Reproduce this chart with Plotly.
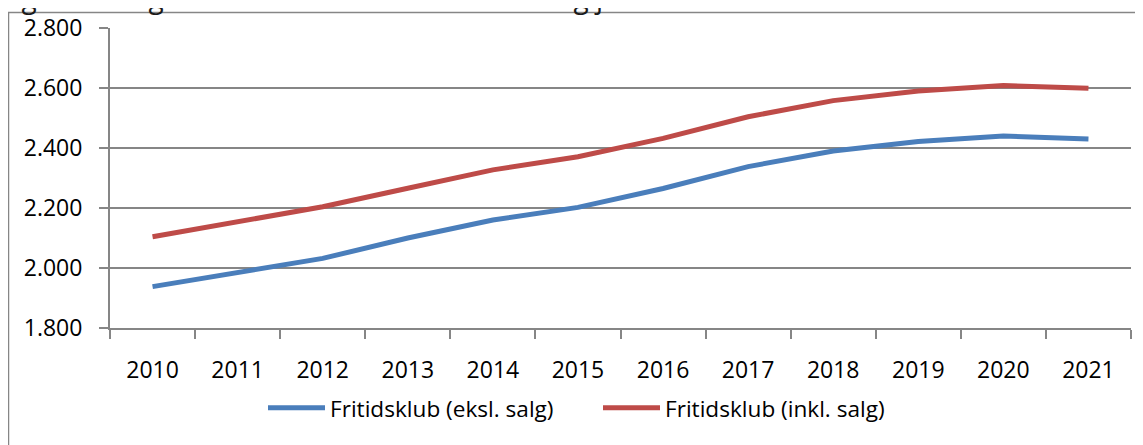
import plotly.graph_objects as go

years = ["2010", "2011", "2012", "2013", "2014", "2015", "2016", "2017", "2018", "2019", "2020", "2021"]
eksl_salg = [1938, 1986, 2032, 2100, 2160, 2202, 2265, 2338, 2390, 2422, 2440, 2430]
inkl_salg = [2104, 2154, 2204, 2266, 2327, 2371, 2432, 2504, 2558, 2590, 2608, 2599]
name_eksl = "Fritidsklub (eksl. salg)"
name_inkl = "Fritidsklub (inkl. salg)"
title_text = "Figur 7: Prognose over medlemstal Fritids- og juniorklub"

# the page body adds an 8px offset; the layout below is expressed in screen pixels
OFF = 8
W, H = 1143, 445
ML, MR, MT, MB = 110 - OFF, 1143 - (1131 - OFF), 28 - OFF, 445 - (328 - OFF)
PW, PH = W - ML - MR, H - MT - MB

def px(sx):
    return (sx - OFF - ML) / PW

def py(sy):
    return (H - MB - (sy - OFF)) / PH

FONT = "Open Sans"
FS = 23
LFS = 22.6
TFS = 28
GRID = "#868686"

fig = go.Figure()
fig.add_trace(go.Scatter(x=years, y=eksl_salg, mode="lines", name=name_eksl,
                         line=dict(color="#4A7EBB", width=5)))
fig.add_trace(go.Scatter(x=years, y=inkl_salg, mode="lines", name=name_inkl,
                         line=dict(color="#BE4B48", width=5)))

fig.update_layout(
    width=W, height=H,
    margin=dict(l=ML, r=MR, t=MT, b=MB, autoexpand=False),
    paper_bgcolor="white", plot_bgcolor="white",
    separators=",.",
    font=dict(family=FONT, size=FS, color="#000000"),
    showlegend=True,
    legend=dict(orientation="h", x=px(263), xanchor="left", y=py(408), yanchor="middle",
                font=dict(family=FONT, size=LFS, color="#000000"),
                itemwidth=57, entrywidth=263, entrywidthmode="pixels",
                tracegroupgap=0, bgcolor="rgba(0,0,0,0)"),
    xaxis=dict(type="category", range=[-0.5, len(years) - 0.5], automargin=False,
               showgrid=False, showline=True, linecolor=GRID, linewidth=2,
               ticks="outside", tickson="boundaries", ticklen=9, tickcolor=GRID, tickwidth=2,
               tickfont=dict(family=FONT, size=FS, color="#000000"), ticklabelstandoff=20,
               fixedrange=True),
    yaxis=dict(range=[1800, 2800], dtick=200, tick0=1800, tickformat=",d", automargin=False,
               showgrid=True, gridcolor=GRID, gridwidth=2, zeroline=False,
               showline=True, linecolor=GRID, linewidth=2,
               ticks="outside", ticklen=9, tickcolor=GRID, tickwidth=2,
               tickfont=dict(family=FONT, size=FS, color="#000000"), ticklabelstandoff=12,
               fixedrange=True),
)

# outer chart frame (partially outside the picture, as in the reference)
fig.add_shape(type="rect", xref="paper", yref="paper",
              x0=px(8.5), x1=px(1170), y0=py(12.5), y1=py(480),
              line=dict(color=GRID, width=1.5), fillcolor="rgba(0,0,0,0)", layer="below")

# cut-off caption above the frame
fig.add_annotation(text=title_text, xref="paper", yref="paper", x=px(-2), y=py(18.5),
                   xanchor="left", yanchor="bottom", showarrow=False,
                   font=dict(family=FONT, size=TFS, color="#1a1a1a"))

fig.write_html("out.html")
